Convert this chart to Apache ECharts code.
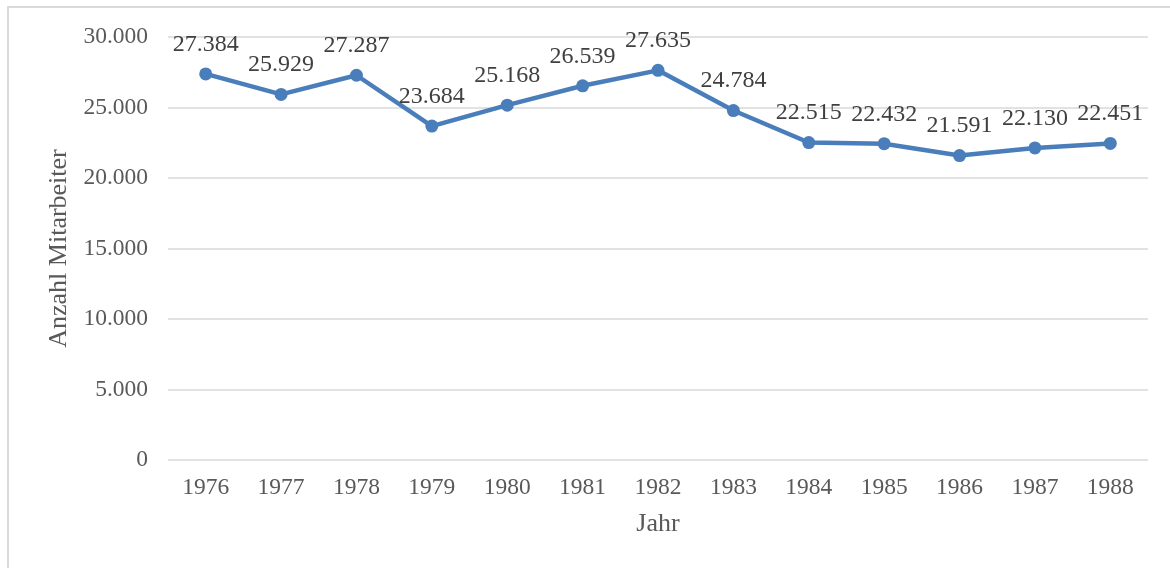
<!DOCTYPE html>
<html>
<head>
<meta charset="utf-8">
<script src="https://cdn.jsdelivr.net/npm/echarts@6/dist/echarts.min.js"></script>
<style>
  html, body { margin: 0; padding: 0; background: #fff; }
  #main { width: 1170px; height: 568px; }
</style>
</head>
<body>
<div id="main"></div>
<script>
var years = ['1976', '1977', '1978', '1979', '1980', '1981', '1982', '1983', '1984', '1985', '1986', '1987', '1988'];
var mitarbeiter = [27384, 25929, 27287, 23684, 25168, 26539, 27635, 24784, 22515, 22432, 21591, 22130, 22451];
var yTicks = [0, 5000, 10000, 15000, 20000, 25000, 30000];

// Tausenderpunkt wie im Original
function fmt(v) {
    return String(v).replace(/\B(?=(\d{3})+(?!\d))/g, '.');
}

var myChart = echarts.init(document.getElementById('main'));
var option = {
    animation: false,
    textStyle: { fontFamily: 'Liberation Serif' },
    graphic: [{
        type: 'rect',
        shape: { x: 8, y: 7, width: 1200, height: 620 },
        style: { fill: 'none', stroke: '#d9d9d9', lineWidth: 2 },
        silent: true
    }],
    grid: { left: 168, right: 22, top: 37, bottom: 108 },
    xAxis: {
        type: 'category',
        data: years,
        name: 'Jahr',
        nameLocation: 'middle',
        nameGap: 51,
        nameTextStyle: { fontSize: 26, color: '#595959', fontFamily: 'Liberation Serif' },
        axisLine: { show: false },
        axisTick: { show: false },
        axisLabel: { fontSize: 23.5, color: '#595959', margin: 16, fontFamily: 'Liberation Serif' }
    },
    yAxis: {
        type: 'value',
        min: yTicks[0],
        max: yTicks[yTicks.length - 1],
        interval: 5000,
        name: 'Anzahl Mitarbeiter',
        nameLocation: 'middle',
        nameGap: 95,
        nameTextStyle: { fontSize: 26, color: '#595959', fontFamily: 'Liberation Serif' },
        axisLine: { show: false },
        axisTick: { show: false },
        splitLine: { lineStyle: { color: '#d9d9d9', width: 1.5 } },
        axisLabel: {
            fontSize: 23.5, color: '#595959', margin: 20, fontFamily: 'Liberation Serif',
            formatter: function (v) { return fmt(v); }
        }
    },
    series: [{
        name: 'Anzahl Mitarbeiter',
        type: 'line',
        data: mitarbeiter,
        symbol: 'circle',
        symbolSize: 13,
        lineStyle: { color: '#4a7ebb', width: 4.5 },
        itemStyle: { color: '#4a7ebb' },
        label: {
            show: true,
            position: 'top',
            distance: 11,
            fontSize: 24,
            color: '#404040',
            fontFamily: 'Liberation Serif',
            formatter: function (p) { return fmt(p.value); }
        }
    }]
};
myChart.setOption(option);
</script>
</body>
</html>
